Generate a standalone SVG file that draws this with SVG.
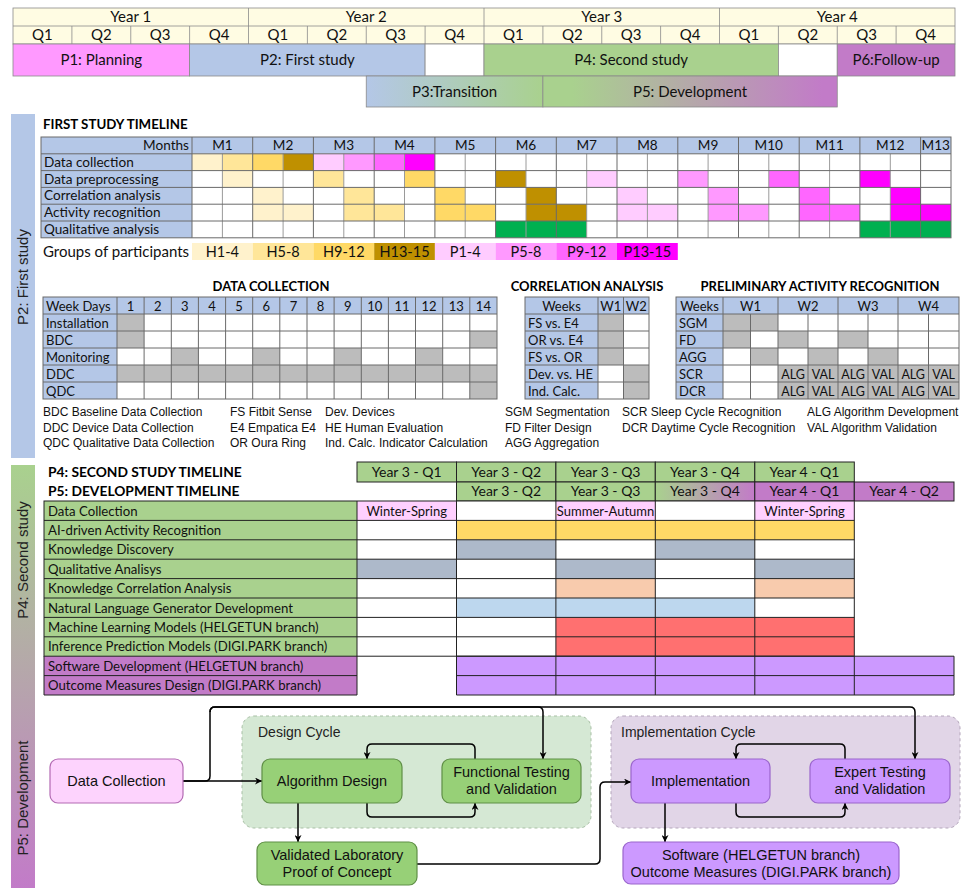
<svg xmlns="http://www.w3.org/2000/svg" width="967" height="888" viewBox="0 0 967 888">
<defs>
<style>
.tx{font-family:Lato,"Noto Sans",sans-serif;font-size:13px;fill:#111}
.hd{font-family:Lato,"Noto Sans",sans-serif;font-size:15px;fill:#111;text-anchor:middle}
.c{text-anchor:middle}
.e{text-anchor:end}
.bt{font-family:Lato,"Noto Sans",sans-serif;font-weight:700;font-size:13px;fill:#000}
.ar{font-family:"Liberation Sans",Arial,sans-serif;font-size:12px;fill:#111}
.fl{font-family:"Liberation Sans",Arial,sans-serif;font-size:14.5px;fill:#111;text-anchor:middle}
.cap{font-family:"Liberation Sans",Arial,sans-serif;font-size:14px;fill:#222;text-anchor:start}
.side{font-family:"Liberation Sans",Arial,sans-serif;font-size:15px;fill:#222;text-anchor:middle}
.s125{font-size:12.5px}
.s132{font-size:13.2px}
.s133{font-size:13.3px}
.s136{font-size:13.6px}
.s138{font-size:13.8px}
.s14{font-size:14px}
.s145{font-size:14.5px}
.s15{font-size:15px}
.ln{stroke:#6a6a6a;stroke-width:1;fill:none}
.lt{stroke:#9a9a9a;stroke-width:1;fill:none}
.bk{stroke:#222;stroke-width:1;fill:none}
.hb{stroke:#8a8a8a;stroke-width:0.8}
.gr{fill:#bcbcbc}
.blue{fill:#b4c7e7}
.green{fill:#a9d18e}
.purple{fill:#c27bc8}
.conn{stroke:#000;stroke-width:1.5;fill:none;marker-end:url(#arr)}
</style>
<linearGradient id="gP3" x1="0" y1="0" x2="1" y2="0"><stop offset="0" stop-color="#b4c7e7"/><stop offset="1" stop-color="#a9d18e"/></linearGradient>
<linearGradient id="gP5" x1="0" y1="0" x2="1" y2="0"><stop offset="0.1" stop-color="#a9d18e"/><stop offset="0.95" stop-color="#c27bc8"/></linearGradient>
<linearGradient id="gQ4" x1="0" y1="0" x2="1" y2="0"><stop offset="0" stop-color="#a9d18e"/><stop offset="1" stop-color="#c27bc8"/></linearGradient>
<linearGradient id="gBand" x1="0" y1="0" x2="0" y2="1"><stop offset="0" stop-color="#a9d18e"/><stop offset="1" stop-color="#c27bc8"/></linearGradient>
<marker id="arr" viewBox="0 0 10 10" refX="10" refY="5" markerWidth="7" markerHeight="7" markerUnits="userSpaceOnUse" orient="auto"><path d="M0,0 L10,5 L0,10 L3,5 z" fill="#000"/></marker>
</defs>
<rect width="967" height="888" fill="#fff"/>

<!-- Project calendar: years, quarters and phases -->
<g id="calendar">
<rect x="13" y="8" width="942" height="36" fill="#fffce3" class="hb" stroke="#8a8a8a"/>
<line x1="13" y1="26" x2="955" y2="26" class="hb" stroke="#8a8a8a"/>
<g stroke="#8a8a8a" stroke-width="0.8">
<line x1="248.5" y1="8" x2="248.5" y2="44"/><line x1="484" y1="8" x2="484" y2="44"/><line x1="719.5" y1="8" x2="719.5" y2="44"/>
<line x1="71.9" y1="26" x2="71.9" y2="44"/><line x1="130.75" y1="26" x2="130.75" y2="44"/><line x1="189.6" y1="26" x2="189.6" y2="44"/>
<line x1="307.4" y1="26" x2="307.4" y2="44"/><line x1="366.25" y1="26" x2="366.25" y2="44"/><line x1="425.1" y1="26" x2="425.1" y2="44"/>
<line x1="542.9" y1="26" x2="542.9" y2="44"/><line x1="601.75" y1="26" x2="601.75" y2="44"/><line x1="660.6" y1="26" x2="660.6" y2="44"/>
<line x1="778.4" y1="26" x2="778.4" y2="44"/><line x1="837.25" y1="26" x2="837.25" y2="44"/><line x1="896.1" y1="26" x2="896.1" y2="44"/>
</g>
<text class="hd" x="130.75" y="22">Year 1</text><text class="hd" x="366.25" y="22">Year 2</text><text class="hd" x="601.75" y="22">Year 3</text><text class="hd" x="837.25" y="22">Year 4</text>
<text class="hd" x="42.4" y="40">Q1</text><text class="hd" x="101.3" y="40">Q2</text><text class="hd" x="160.2" y="40">Q3</text><text class="hd" x="219" y="40">Q4</text>
<text class="hd" x="277.9" y="40">Q1</text><text class="hd" x="336.8" y="40">Q2</text><text class="hd" x="395.7" y="40">Q3</text><text class="hd" x="454.5" y="40">Q4</text>
<text class="hd" x="513.4" y="40">Q1</text><text class="hd" x="572.3" y="40">Q2</text><text class="hd" x="631.2" y="40">Q3</text><text class="hd" x="690" y="40">Q4</text>
<text class="hd" x="748.9" y="40">Q1</text><text class="hd" x="807.8" y="40">Q2</text><text class="hd" x="866.7" y="40">Q3</text><text class="hd" x="925.5" y="40">Q4</text>
<g stroke="#8a8a8a" stroke-width="0.8">
<rect x="13" y="44" width="176.6" height="32" fill="#ff99ff"/>
<rect x="189.6" y="44" width="235.5" height="32" fill="#b4c7e7"/>
<rect x="425.1" y="44" width="58.9" height="32" fill="#fff"/>
<rect x="484" y="44" width="294.4" height="32" fill="#a9d18e"/>
<rect x="778.4" y="44" width="58.85" height="32" fill="#fff"/>
<rect x="837.25" y="44" width="117.75" height="32" fill="#c27bc8"/>
<rect x="366.25" y="76" width="176.65" height="31" fill="url(#gP3)"/>
<rect x="542.9" y="76" width="294.35" height="31" fill="url(#gP5)"/>
</g>
<text class="hd" x="101.3" y="65">P1: Planning</text>
<text class="hd" x="307.4" y="65">P2: First study</text>
<text class="hd" x="631.2" y="65">P4: Second study</text>
<text class="hd" x="896.1" y="65">P6:Follow-up</text>
<text class="hd" x="454.6" y="97">P3:Transition</text>
<text class="hd" x="690" y="97">P5: Development</text>
</g>

<!-- Side bands naming the phases -->
<g id="side-bands">
<rect x="11" y="114" width="24" height="344" fill="#b4c7e7"/>
<rect x="11" y="465" width="24" height="423" fill="url(#gBand)"/>
<text class="side" transform="translate(28,277) rotate(-90)">P2: First study</text>
<text class="side" transform="translate(28,560) rotate(-90)">P4: Second study</text>
<text class="side" transform="translate(28,798) rotate(-90)">P5: Development</text>
</g>

<!-- First study month-by-month timeline -->
<g id="first-study-timeline">
<text class="bt s133" x="43" y="129">FIRST STUDY TIMELINE</text>
<rect x="41" y="137" width="151" height="100.8" class="blue"/>
<rect x="192" y="137" width="759" height="16.8" class="blue"/>
<rect x="192" y="153.8" width="759" height="84" fill="#fff"/>
<!-- data collection -->
<rect x="192" y="153.8" width="30.4" height="16.8" fill="#fff2cc"/>
<rect x="222.4" y="153.8" width="30.4" height="16.8" fill="#ffe699"/>
<rect x="252.7" y="153.8" width="30.4" height="16.8" fill="#ffd966"/>
<rect x="283.1" y="153.8" width="30.4" height="16.8" fill="#bf9000"/>
<rect x="313.4" y="153.8" width="30.4" height="16.8" fill="#ffccff"/>
<rect x="343.8" y="153.8" width="30.4" height="16.8" fill="#ff99ff"/>
<rect x="374.2" y="153.8" width="30.4" height="16.8" fill="#ff66ff"/>
<rect x="404.5" y="153.8" width="30.4" height="16.8" fill="#ff00ff"/>
<!-- data preprocessing -->
<rect x="222.4" y="170.6" width="30.4" height="16.8" fill="#fff2cc"/>
<rect x="313.4" y="170.6" width="30.4" height="16.8" fill="#ffe699"/>
<rect x="404.5" y="170.6" width="30.4" height="16.8" fill="#ffd966"/>
<rect x="495.6" y="170.6" width="30.4" height="16.8" fill="#bf9000"/>
<rect x="586.7" y="170.6" width="30.4" height="16.8" fill="#ffccff"/>
<rect x="677.8" y="170.6" width="30.4" height="16.8" fill="#ff99ff"/>
<rect x="768.8" y="170.6" width="30.4" height="16.8" fill="#ff66ff"/>
<rect x="859.9" y="170.6" width="30.4" height="16.8" fill="#ff00ff"/>
<!-- correlation analysis -->
<rect x="252.7" y="187.4" width="30.4" height="16.8" fill="#fff2cc"/>
<rect x="343.8" y="187.4" width="30.4" height="16.8" fill="#ffe699"/>
<rect x="434.9" y="187.4" width="30.4" height="16.8" fill="#ffd966"/>
<rect x="526" y="187.4" width="30.4" height="16.8" fill="#bf9000"/>
<rect x="617" y="187.4" width="30.4" height="16.8" fill="#ffccff"/>
<rect x="708.1" y="187.4" width="30.4" height="16.8" fill="#ff99ff"/>
<rect x="799.2" y="187.4" width="30.4" height="16.8" fill="#ff66ff"/>
<rect x="890.3" y="187.4" width="30.4" height="16.8" fill="#ff00ff"/>
<!-- activity recognition -->
<rect x="252.7" y="204.2" width="60.8" height="16.8" fill="#fff2cc"/>
<rect x="343.8" y="204.2" width="60.8" height="16.8" fill="#ffe699"/>
<rect x="434.9" y="204.2" width="60.8" height="16.8" fill="#ffd966"/>
<rect x="526" y="204.2" width="60.8" height="16.8" fill="#bf9000"/>
<rect x="617" y="204.2" width="60.8" height="16.8" fill="#ffccff"/>
<rect x="708.1" y="204.2" width="60.8" height="16.8" fill="#ff99ff"/>
<rect x="799.2" y="204.2" width="60.8" height="16.8" fill="#ff66ff"/>
<rect x="890.3" y="204.2" width="60.7" height="16.8" fill="#ff00ff"/>
<!-- qualitative analysis -->
<rect x="495.6" y="221" width="91.1" height="16.8" fill="#00b050"/>
<rect x="859.9" y="221" width="91.1" height="16.8" fill="#00b050"/>
<!-- grid -->
<g class="lt">
<path d="M222.4,153.8V237.8M283.1,153.8V237.8M343.8,153.8V237.8M404.5,153.8V237.8M465.2,153.8V237.8M526,153.8V237.8M586.7,153.8V237.8M647.4,153.8V237.8M708.1,153.8V237.8M768.8,153.8V237.8M829.6,153.8V237.8M890.3,153.8V237.8"/>
</g>
<g class="ln">
<rect x="41" y="137" width="910" height="100.8"/>
<path d="M41,153.8H951M41,170.6H951M41,187.4H951M41,204.2H951M41,221H951"/>
<path d="M192,137V237.8M252.7,137V237.8M313.4,137V237.8M374.2,137V237.8M434.9,137V237.8M495.6,137V237.8M556.3,137V237.8M617,137V237.8M677.8,137V237.8M738.5,137V237.8M799.2,137V237.8M859.9,137V237.8M920.6,137V237.8"/>
</g>
<text class="tx e s136" x="189" y="150">Months</text>
<g class="tx c s136">
<text x="222.4" y="150">M1</text><text x="283.1" y="150">M2</text><text x="343.8" y="150">M3</text><text x="404.5" y="150">M4</text>
<text x="465.2" y="150">M5</text><text x="526" y="150">M6</text><text x="586.7" y="150">M7</text><text x="647.4" y="150">M8</text>
<text x="708.1" y="150">M9</text><text x="768.8" y="150">M10</text><text x="829.6" y="150">M11</text><text x="890.3" y="150">M12</text>
<text x="935.8" y="150">M13</text>
</g>
<g class="tx s136">
<text x="44" y="166.8">Data collection</text>
<text x="44" y="183.6">Data preprocessing</text>
<text x="44" y="200.4">Correlation analysis</text>
<text x="44" y="217.2">Activity recognition</text>
<text x="44" y="234">Qualitative analysis</text>
</g>
<text class="tx s15" x="43" y="257">Groups of participants</text>
<rect x="192" y="243" width="60.7" height="17" fill="#fff2cc"/>
<rect x="252.7" y="243" width="60.7" height="17" fill="#ffe699"/>
<rect x="313.4" y="243" width="60.8" height="17" fill="#ffd966"/>
<rect x="374.2" y="243" width="60.7" height="17" fill="#bf9000"/>
<rect x="434.9" y="243" width="60.7" height="17" fill="#ffccff"/>
<rect x="495.6" y="243" width="60.7" height="17" fill="#ff99ff"/>
<rect x="556.3" y="243" width="60.7" height="17" fill="#ff66ff"/>
<rect x="617" y="243" width="60.8" height="17" fill="#ff00ff"/>
<g class="tx c s145">
<text x="222.4" y="256.5">H1-4</text><text x="283.1" y="256.5">H5-8</text><text x="343.8" y="256.5">H9-12</text><text x="404.5" y="256.5">H13-15</text>
<text x="465.2" y="256.5">P1-4</text><text x="526" y="256.5">P5-8</text><text x="586.7" y="256.5">P9-12</text><text x="647.4" y="256.5">P13-15</text>
</g>
</g>

<!-- Two-week data collection schedule -->
<g id="data-collection">
<text class="bt c" x="271" y="291">DATA COLLECTION</text>
<rect x="43" y="297" width="74" height="102" class="blue"/>
<rect x="117" y="297" width="380" height="17" class="blue"/>
<rect x="117" y="314" width="380" height="85" fill="#fff"/>
<rect x="117" y="314" width="27.1" height="17" class="gr"/>
<rect x="117" y="331" width="27.1" height="17" class="gr"/>
<rect x="469.9" y="331" width="27.1" height="17" class="gr"/>
<rect x="171.3" y="348" width="27.1" height="17" class="gr"/>
<rect x="252.7" y="348" width="27.1" height="17" class="gr"/>
<rect x="334.1" y="348" width="27.1" height="17" class="gr"/>
<rect x="415.5" y="348" width="27.1" height="17" class="gr"/>
<rect x="117" y="365" width="380" height="17" class="gr"/>
<rect x="469.9" y="382" width="27.1" height="17" class="gr"/>
<g class="ln">
<rect x="43" y="297" width="454" height="102"/>
<path d="M43,314H497M43,331H497M43,348H497M43,365H497M43,382H497"/>
<path d="M117,297V399M144.1,297V399M171.3,297V399M198.4,297V399M225.6,297V399M252.7,297V399M279.8,297V399M307,297V399M334.1,297V399M361.3,297V399M388.4,297V399M415.5,297V399M442.7,297V399M469.8,297V399"/>
</g>
<text class="tx" x="46" y="310.5">Week Days</text>
<g class="tx c">
<text x="130.6" y="310.5">1</text><text x="157.7" y="310.5">2</text><text x="184.8" y="310.5">3</text><text x="212" y="310.5">4</text>
<text x="239.1" y="310.5">5</text><text x="266.2" y="310.5">6</text><text x="293.4" y="310.5">7</text><text x="320.5" y="310.5">8</text>
<text x="347.7" y="310.5">9</text><text x="374.8" y="310.5">10</text><text x="402" y="310.5">11</text><text x="429.1" y="310.5">12</text>
<text x="456.3" y="310.5">13</text><text x="483.4" y="310.5">14</text>
</g>
<text class="tx" x="46" y="327.5">Installation</text>
<text class="tx" x="46" y="344.5">BDC</text>
<text class="tx" x="46" y="361.5">Monitoring</text>
<text class="tx" x="46" y="378.5">DDC</text>
<text class="tx" x="46" y="395.5">QDC</text>
<text class="ar" x="43" y="416">BDC Baseline Data Collection</text>
<text class="ar" x="43" y="432">DDC Device Data Collection</text>
<text class="ar" x="43" y="447">QDC Qualitative Data Collection</text>
<text class="ar" x="230" y="416">FS Fitbit Sense</text>
<text class="ar" x="230" y="432">E4 Empatica E4</text>
<text class="ar" x="230" y="447">OR Oura Ring</text>
<text class="ar" x="325" y="416">Dev. Devices</text>
<text class="ar" x="325" y="432">HE Human Evaluation</text>
<text class="ar" x="325" y="447">Ind. Calc. Indicator Calculation</text>
</g>

<!-- Correlation analysis schedule -->
<g id="correlation-analysis">
<text class="bt c" x="587" y="291">CORRELATION ANALYSIS</text>
<rect x="525" y="297" width="73" height="102" class="blue"/>
<rect x="598" y="297" width="51" height="17" class="blue"/>
<rect x="598" y="314" width="51" height="85" fill="#fff"/>
<rect x="598" y="314" width="25.5" height="51" class="gr"/>
<rect x="623.5" y="365" width="25.5" height="34" class="gr"/>
<g class="ln">
<rect x="525" y="297" width="124" height="102"/>
<path d="M525,314H649M525,331H649M525,348H649M525,365H649M525,382H649M598,297V399M623.5,297V399"/>
</g>
<text class="tx c" x="561.5" y="310.5">Weeks</text>
<text class="tx c" x="610.7" y="310.5">W1</text>
<text class="tx c" x="636.2" y="310.5">W2</text>
<text class="tx" x="528" y="327.5">FS vs. E4</text>
<text class="tx" x="528" y="344.5">OR vs. E4</text>
<text class="tx" x="528" y="361.5">FS vs. OR</text>
<text class="tx" x="528" y="378.5">Dev. vs. HE</text>
<text class="tx" x="528" y="395.5">Ind. Calc.</text>
<text class="ar" x="505" y="416">SGM Segmentation</text>
<text class="ar" x="505" y="432">FD Filter Design</text>
<text class="ar" x="505" y="447">AGG Aggregation</text>
</g>

<!-- Preliminary activity recognition schedule -->
<g id="activity-recognition">
<text class="bt c" x="820" y="291">PRELIMINARY ACTIVITY RECOGNITION</text>
<rect x="676" y="297" width="47" height="102" class="blue"/>
<rect x="723" y="297" width="236" height="17" class="blue"/>
<rect x="723" y="314" width="236" height="85" fill="#fff"/>
<rect x="723" y="314" width="55" height="17" class="gr"/>
<rect x="723" y="331" width="27.5" height="17" class="gr"/>
<rect x="778" y="331" width="30" height="17" class="gr"/>
<rect x="838" y="331" width="30" height="17" class="gr"/>
<rect x="750.5" y="348" width="27.5" height="17" class="gr"/>
<rect x="808" y="348" width="30" height="17" class="gr"/>
<rect x="868" y="348" width="30" height="17" class="gr"/>
<rect x="778" y="365" width="181" height="34" class="gr"/>
<g class="ln">
<rect x="676" y="297" width="283" height="102"/>
<path d="M676,314H959M676,331H959M676,348H959M676,365H959M676,382H959"/>
<path d="M723,297V399M778,297V399M838,297V399M898,297V399M750.5,314V399M808,314V399M868,314V399M928.5,314V399"/>
</g>
<g class="tx c">
<text x="699.5" y="310.5">Weeks</text><text x="750.5" y="310.5">W1</text><text x="808" y="310.5">W2</text><text x="868" y="310.5">W3</text><text x="928.5" y="310.5">W4</text>
</g>
<text class="tx" x="679" y="327.5">SGM</text>
<text class="tx" x="679" y="344.5">FD</text>
<text class="tx" x="679" y="361.5">AGG</text>
<text class="tx" x="679" y="378.5">SCR</text>
<text class="tx" x="679" y="395.5">DCR</text>
<g class="tx c s125">
<text x="793" y="378.5">ALG</text><text x="823" y="378.5">VAL</text><text x="853" y="378.5">ALG</text><text x="883" y="378.5">VAL</text><text x="913.2" y="378.5">ALG</text><text x="943.7" y="378.5">VAL</text>
<text x="793" y="395.5">ALG</text><text x="823" y="395.5">VAL</text><text x="853" y="395.5">ALG</text><text x="883" y="395.5">VAL</text><text x="913.2" y="395.5">ALG</text><text x="943.7" y="395.5">VAL</text>
</g>
<text class="ar" x="622" y="416">SCR Sleep Cycle Recognition</text>
<text class="ar" x="622" y="432">DCR Daytime Cycle Recognition</text>
<text class="ar" x="807" y="416">ALG Algorithm Development</text>
<text class="ar" x="807" y="432">VAL Algorithm Validation</text>
</g>

<!-- Second study and development quarterly timeline -->
<g id="second-study-timeline">
<text class="bt s138" x="48" y="477">P4: SECOND STUDY TIMELINE</text>
<text class="bt s138" x="48" y="496">P5: DEVELOPMENT TIMELINE</text>
<g stroke="#222" stroke-width="1">
<rect x="357" y="462" width="99.5" height="20" class="green"/>
<rect x="456.5" y="462" width="99.4" height="20" class="green"/>
<rect x="555.9" y="462" width="99.4" height="20" class="green"/>
<rect x="655.3" y="462" width="99.5" height="20" class="green"/>
<rect x="754.8" y="462" width="99.5" height="20" class="green"/>
<rect x="456.5" y="482" width="99.4" height="19" class="green"/>
<rect x="555.9" y="482" width="99.4" height="19" class="green"/>
<rect x="655.3" y="482" width="99.5" height="19" fill="url(#gQ4)"/>
<rect x="754.8" y="482" width="99.5" height="19" class="purple"/>
<rect x="854.3" y="482" width="99.7" height="19" class="purple"/>
</g>
<g class="tx c s14">
<text x="406.7" y="477">Year 3 - Q1</text><text x="506.2" y="477">Year 3 - Q2</text><text x="605.6" y="477">Year 3 - Q3</text><text x="705" y="477">Year 3 - Q4</text><text x="804.5" y="477">Year 4 - Q1</text>
<text x="506.2" y="496">Year 3 - Q2</text><text x="605.6" y="496">Year 3 - Q3</text><text x="705" y="496">Year 3 - Q4</text><text x="804.5" y="496">Year 4 - Q1</text><text x="904.1" y="496">Year 4 - Q2</text>
</g>
<!-- task labels -->
<rect x="44" y="501" width="313" height="155.2" class="green"/>
<rect x="44" y="656.2" width="313" height="38.8" class="purple"/>
<!-- task cells -->
<rect x="357" y="501" width="497.3" height="155.2" fill="#fff"/>
<rect x="357" y="501" width="99.5" height="19.4" fill="#ffd0ff"/>
<rect x="555.9" y="501" width="99.4" height="19.4" fill="#ffd0ff"/>
<rect x="754.8" y="501" width="99.5" height="19.4" fill="#ffd0ff"/>
<rect x="456.5" y="520.4" width="397.8" height="19.4" fill="#ffd966"/>
<rect x="456.5" y="539.8" width="99.4" height="19.4" fill="#adb9ca"/>
<rect x="655.3" y="539.8" width="99.5" height="19.4" fill="#adb9ca"/>
<rect x="357" y="559.2" width="99.5" height="19.4" fill="#adb9ca"/>
<rect x="555.9" y="559.2" width="99.4" height="19.4" fill="#adb9ca"/>
<rect x="754.8" y="559.2" width="99.5" height="19.4" fill="#adb9ca"/>
<rect x="555.9" y="578.6" width="99.4" height="19.4" fill="#f8cbad"/>
<rect x="754.8" y="578.6" width="99.5" height="19.4" fill="#f8cbad"/>
<rect x="456.5" y="598" width="298.3" height="19.4" fill="#bdd7ee"/>
<rect x="555.9" y="617.4" width="298.4" height="38.8" fill="#ff7070"/>
<rect x="456.5" y="656.2" width="497.5" height="38.8" fill="#cc99ff"/>
<g class="bk">
<rect x="44" y="501" width="810.3" height="155.2"/>
<path d="M44,520.4H854.3M44,539.8H854.3M44,559.2H854.3M44,578.6H854.3M44,598H854.3M44,617.4H854.3M44,636.8H854.3"/>
<path d="M357,501V656.2M456.5,501V695M555.9,501V695M655.3,501V695M754.8,501V695M854.3,656.2V695"/>
<path d="M44,656.2V695H357V656.2M456.5,656.2H954V695H456.5M456.5,675.6H954M44,675.6H357"/>
</g>
<g class="tx s132">
<text x="48" y="515.5">Data Collection</text>
<text x="48" y="534.9">AI-driven Activity Recognition</text>
<text x="48" y="554.3">Knowledge Discovery</text>
<text x="48" y="573.7">Qualitative Analisys</text>
<text x="48" y="593.1">Knowledge Correlation Analysis</text>
<text x="48" y="612.5">Natural Language Generator Development</text>
<text x="48" y="631.9">Machine Learning Models (HELGETUN branch)</text>
<text x="48" y="651.3">Inference Prediction Models (DIGI.PARK branch)</text>
<text x="48" y="670.7">Software Development (HELGETUN branch)</text>
<text x="48" y="690.1">Outcome Measures Design (DIGI.PARK branch)</text>
</g>
<g class="tx c">
<text x="406.7" y="515.5">Winter-Spring</text>
<text x="605.6" y="515.5">Summer-Autumn</text>
<text x="804.5" y="515.5">Winter-Spring</text>
</g>
</g>

<!-- Development workflow -->
<g id="design-cycle">
<rect x="242" y="716" width="349" height="112" rx="12" fill="#d5e8d4" stroke="#a8bfa5" stroke-dasharray="3,3"/>
<text class="cap" x="258" y="737">Design Cycle</text>
</g>
<g id="implementation-cycle">
<rect x="611" y="716" width="349" height="112" rx="12" fill="#e1d5e7" stroke="#b4a6bb" stroke-dasharray="3,3"/>
<text class="cap" x="621" y="737">Implementation Cycle</text>
</g>

<g id="connectors">
<path class="conn" d="M183,781H262"/>
<path class="conn" d="M183,781H205Q210,781 210,776V712Q210,707 215,707H538Q543,707 543,712V759"/>
<path class="conn" d="M210,712Q210,707 215,707H910Q915,707 915,712V759"/>
<path class="conn" d="M475,759V749Q475,744 470,744H372Q367,744 367,749V759"/>
<path class="conn" d="M367,803V812Q367,817 372,817H470Q475,817 475,812V803"/>
<path class="conn" d="M298,803V842"/>
<path class="conn" d="M417,864H595Q600,864 600,859V787Q600,782 605,782H631"/>
<path class="conn" d="M845,759V749Q845,744 840,744H741Q736,744 736,749V759"/>
<path class="conn" d="M736,803V812Q736,817 741,817H840Q845,817 845,812V803"/>
<path class="conn" d="M665,803V842"/>
</g>

<g id="node-data-collection">
<rect x="50" y="759" width="133" height="44" rx="8" fill="#fdd3fd" stroke="#b36ab3" stroke-width="1.2"/>
<text class="fl" x="116.5" y="786">Data Collection</text>
</g>
<g id="node-algorithm-design">
<rect x="262" y="759" width="140" height="44" rx="8" fill="#97d077" stroke="#5f8f46" stroke-width="1.2"/>
<text class="fl" x="332" y="786">Algorithm Design</text>
</g>
<g id="node-functional-testing">
<rect x="442" y="759" width="139" height="44" rx="8" fill="#97d077" stroke="#5f8f46" stroke-width="1.2"/>
<text class="fl" x="511.5" y="777">Functional Testing</text>
<text class="fl" x="511.5" y="794">and Validation</text>
</g>
<g id="node-proof-of-concept">
<rect x="257" y="842" width="160" height="43" rx="8" fill="#97d077" stroke="#5f8f46" stroke-width="1.2"/>
<text class="fl" x="337" y="860">Validated Laboratory</text>
<text class="fl" x="337" y="877">Proof of Concept</text>
</g>
<g id="node-implementation">
<rect x="631" y="759" width="139" height="44" rx="8" fill="#cc99ff" stroke="#9a66cc" stroke-width="1.2"/>
<text class="fl" x="700.5" y="786">Implementation</text>
</g>
<g id="node-expert-testing">
<rect x="810" y="759" width="140" height="44" rx="8" fill="#cc99ff" stroke="#9a66cc" stroke-width="1.2"/>
<text class="fl" x="880" y="777">Expert Testing</text>
<text class="fl" x="880" y="794">and Validation</text>
</g>
<g id="node-software">
<rect x="623" y="842" width="276" height="42" rx="8" fill="#cc99ff" stroke="#9a66cc" stroke-width="1.2"/>
<text class="fl" x="761" y="860">Software (HELGETUN branch)</text>
<text class="fl" x="761" y="877">Outcome Measures (DIGI.PARK branch)</text>
</g>
</svg>
